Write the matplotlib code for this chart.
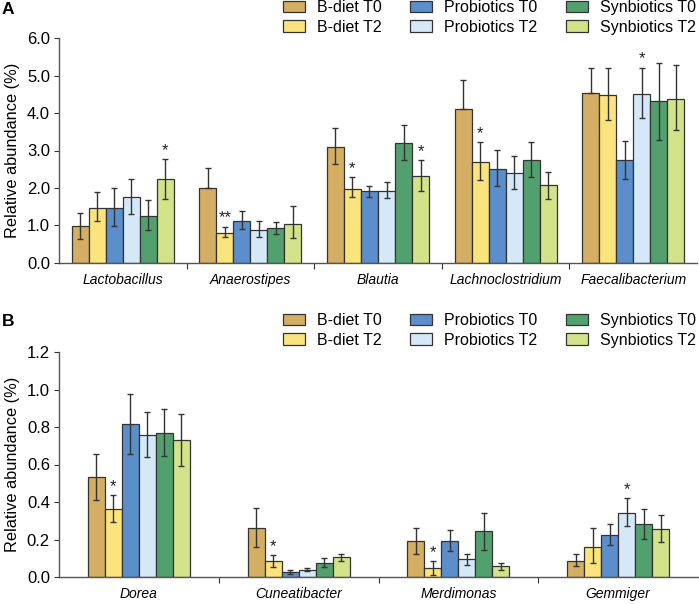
import numpy as np
import matplotlib
matplotlib.use("Agg")
import matplotlib.pyplot as plt
from matplotlib.patches import Patch
from matplotlib.ticker import FormatStrFormatter, FixedLocator

plt.rcParams["font.family"] = ["Liberation Sans", "DejaVu Sans"]

# ---- data ----
series = ["B-diet T0", "B-diet T2", "Probiotics T0", "Probiotics T2",
          "Synbiotics T0", "Synbiotics T2"]
colors = ["#D4AE62", "#FBE47E", "#5B8ECB", "#D5E8F8", "#52A06D", "#D3E38A"]

genera_a = ["Lactobacillus", "Anaerostipes", "Blautia",
            "Lachnoclostridium", "Faecalibacterium"]
# rows = series, columns = genera
mean_a = [
    [0.99, 2.01, 3.10, 4.12, 4.54],
    [1.46, 0.80, 1.98, 2.69, 4.47],
    [1.46, 1.13, 1.91, 2.51, 2.74],
    [1.76, 0.89, 1.91, 2.39, 4.52],
    [1.24, 0.92, 3.21, 2.74, 4.31],
    [2.23, 1.05, 2.32, 2.07, 4.38],
]
err_hi_a = [
    [0.34, 0.52, 0.49, 0.75, 0.66],
    [0.42, 0.16, 0.31, 0.53, 0.73],
    [0.53, 0.25, 0.15, 0.50, 0.52],
    [0.47, 0.22, 0.24, 0.47, 0.68],
    [0.43, 0.18, 0.48, 0.50, 1.03],
    [0.54, 0.46, 0.42, 0.37, 0.89],
]
err_lo_a = [
    [0.35, 0.00, 0.47, 0.00, 0.00],
    [0.35, 0.11, 0.23, 0.48, 0.66],
    [0.48, 0.23, 0.14, 0.47, 0.51],
    [0.45, 0.21, 0.19, 0.41, 0.64],
    [0.35, 0.16, 0.45, 0.46, 1.03],
    [0.52, 0.39, 0.41, 0.36, 0.83],
]
# (genus index, series index, label)
stars_a = [(0, 5, "*"), (1, 1, "**"), (2, 1, "*"), (2, 5, "*"),
           (3, 1, "*"), (4, 3, "*")]

genera_b = ["Dorea", "Cuneatibacter", "Merdimonas", "Gemmiger"]
mean_b = [
    [0.532, 0.263, 0.194, 0.087],
    [0.363, 0.084, 0.048, 0.162],
    [0.814, 0.028, 0.194, 0.226],
    [0.759, 0.036, 0.096, 0.343],
    [0.768, 0.076, 0.247, 0.281],
    [0.731, 0.105, 0.057, 0.256],
]
err_hi_b = [
    [0.126, 0.105, 0.066, 0.036],
    [0.073, 0.032, 0.036, 0.098],
    [0.162, 0.011, 0.057, 0.057],
    [0.123, 0.010, 0.028, 0.078],
    [0.128, 0.027, 0.094, 0.082],
    [0.138, 0.018, 0.018, 0.073],
]
err_lo_b = [
    [0.123, 0.103, 0.071, 0.030],
    [0.070, 0.031, 0.036, 0.089],
    [0.158, 0.010, 0.054, 0.057],
    [0.117, 0.006, 0.032, 0.069],
    [0.123, 0.021, 0.101, 0.078],
    [0.141, 0.018, 0.021, 0.068],
]
stars_b = [(0, 1, "*"), (1, 1, "*"), (2, 1, "*"), (3, 3, "*")]

dark = "#333333"


def draw_panel(ax, genera, mean, err_hi, err_lo, stars, width, ymax, ystep):
    x = np.arange(len(genera))
    n = len(series)
    for i in range(n):
        pos = x + (i - (n - 1) / 2) * width
        ax.bar(pos, mean[i], width, color=colors[i], edgecolor=dark,
               linewidth=0.9, zorder=2)
        ax.errorbar(pos, mean[i], yerr=[err_lo[i], err_hi[i]], fmt="none",
                    ecolor=dark, elinewidth=1, capsize=2.3, capthick=1,
                    zorder=3)
    for g, s, txt in stars:
        px = g + (s - (n - 1) / 2) * width
        py = mean[s][g] + err_hi[s][g]
        ax.annotate(txt, (px, py), xytext=(0, 1), textcoords="offset points",
                    ha="center", va="bottom", fontsize=12, color="#222222")

    ax.set_xlim(-0.5, len(genera) - 0.5)
    ax.set_ylim(0, ymax)
    ax.set_yticks(np.arange(0, ymax + ystep / 2, ystep))
    ax.yaxis.set_major_formatter(FormatStrFormatter("%.1f"))
    ax.set_ylabel("Relative abundance (%)", fontsize=11.8, labelpad=5)

    ax.xaxis.set_major_locator(FixedLocator(x[:-1] + 0.5))
    ax.xaxis.set_minor_locator(FixedLocator(x))
    ax.set_xticklabels([])
    ax.set_xticklabels(genera, minor=True, fontsize=10, style="italic")
    ax.tick_params(axis="x", which="major", length=4, color=dark)
    ax.tick_params(axis="x", which="minor", length=0, pad=7)
    ax.tick_params(axis="y", length=3.5, pad=3, labelsize=12, color=dark)

    for side in ["top", "right"]:
        ax.spines[side].set_visible(False)
    for side in ["left", "bottom"]:
        ax.spines[side].set_color("#555555")
        ax.spines[side].set_linewidth(1)


fig = plt.figure(figsize=(6.99, 6.04), dpi=100)

ax_a = fig.add_axes([59 / 699, 341 / 604, 638 / 699, 225 / 604])
ax_b = fig.add_axes([59 / 699, 27 / 604, 639 / 699, 225 / 604])

draw_panel(ax_a, genera_a, mean_a, err_hi_a, err_lo_a, stars_a,
           17 / 127.5, 6.0, 1.0)
draw_panel(ax_b, genera_b, mean_b, err_hi_b, err_lo_b, stars_b,
           17 / 160, 1.2, 0.2)

handles = [Patch(facecolor=c, edgecolor=dark, linewidth=0.9, label=s)
           for c, s in zip(colors, series)]
for ytop in [1.0, 1 - 313 / 604]:
    fig.legend(handles=handles, ncol=3, loc="upper right",
               bbox_to_anchor=(696 / 699, ytop), frameon=False,
               fontsize=11.5, handlelength=1.4, handleheight=0.75,
               handletextpad=0.75, columnspacing=1.75, labelspacing=0.3,
               borderpad=0, borderaxespad=0)

fig.text(2 / 699, 1 - 2 / 604, "A", fontsize=12.5, fontweight="bold",
         va="top", ha="left")
fig.text(2 / 699, 1 - 314 / 604, "B", fontsize=12.5, fontweight="bold",
         va="top", ha="left")

fig.savefig("out.png", dpi=100)
